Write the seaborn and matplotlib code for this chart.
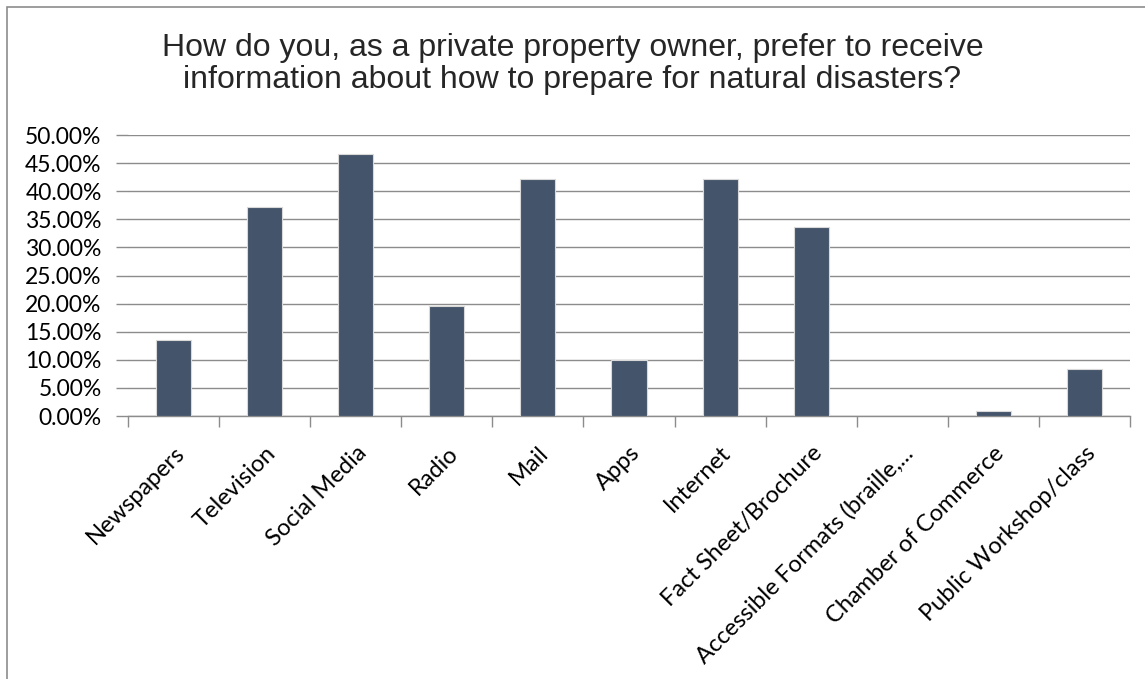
import matplotlib
matplotlib.use("Agg")
import matplotlib.pyplot as plt
import seaborn as sns
import pandas as pd
from matplotlib.ticker import FuncFormatter, FixedLocator, NullFormatter
from matplotlib.patches import Rectangle

categories = ["Newspapers", "Television", "Social Media", "Radio", "Mail", "Apps",
              "Internet", "Fact Sheet/Brochure", "Accessible Formats (braille,...",
              "Chamber of Commerce", "Public Workshop/class"]
values = [13.54, 37.2, 46.6, 19.5, 42.2, 10.0, 42.2, 33.7, 0.0, 0.9, 8.4]
y_ticks = [0, 5, 10, 15, 20, 25, 30, 35, 40, 45, 50]
title = "How do you, as a private property owner, prefer to receive\ninformation about how to prepare for natural disasters?"

sns.set_theme(style="white")
plt.rcParams["font.family"] = ["Lato", "DejaVu Sans"]

df = pd.DataFrame({"category": categories, "value": values})

fig = plt.figure(figsize=(11.45, 6.79), dpi=100)
ax = fig.add_axes([128/1145, 1-416/679, (1130-128)/1145, (416-135)/679])

sns.barplot(data=df, x="category", y="value", color="#44546A", saturation=1,
            width=0.385, edgecolor="#D9D9D9", linewidth=0.8, ax=ax, zorder=3)

ax.set_ylim(0, 50)
ax.set_xlim(-0.5, len(categories) - 0.5)
ax.yaxis.set_major_locator(FixedLocator(y_ticks))
ax.yaxis.set_major_formatter(FuncFormatter(lambda v, p: f"{v:.2f}%"))
ax.grid(axis="y", color="#8C8C8C", linewidth=1.0, zorder=0)
ax.set_axisbelow(True)
for s in ["top", "right", "left"]:
    ax.spines[s].set_visible(False)
ax.spines["bottom"].set_color("#8C8C8C")
ax.spines["bottom"].set_linewidth(1.0)

ax.tick_params(axis="y", which="major", direction="out", length=9, width=1,
               color="#8C8C8C", labelsize=16.5, labelcolor="#000000", pad=10, left=True)
ax.set_xticks(range(len(categories)))
ax.set_xticklabels(categories, rotation=45, ha="right", rotation_mode="anchor",
                   fontsize=17, color="#000000")
ax.tick_params(axis="x", which="major", length=0, pad=19)
ax.set_xticks([i - 0.5 for i in range(len(categories) + 1)], minor=True)
ax.xaxis.set_minor_formatter(NullFormatter())
ax.tick_params(axis="x", which="minor", direction="out", length=8, width=1,
               color="#8C8C8C", bottom=True)
ax.set_xlabel("")
ax.set_ylabel("")

fig.text(0.5, 1-64/679, title, ha="center", va="center", fontsize=23,
         family=["Liberation Sans", "DejaVu Sans"], linespacing=1.1)

fig.patches.append(Rectangle((7/1145, -0.1), 1.2, 1-7/679+0.1, transform=fig.transFigure,
                             fill=False, edgecolor="#8C8C8C", linewidth=1.2))

fig.savefig("out.png", dpi=100, facecolor="white")
